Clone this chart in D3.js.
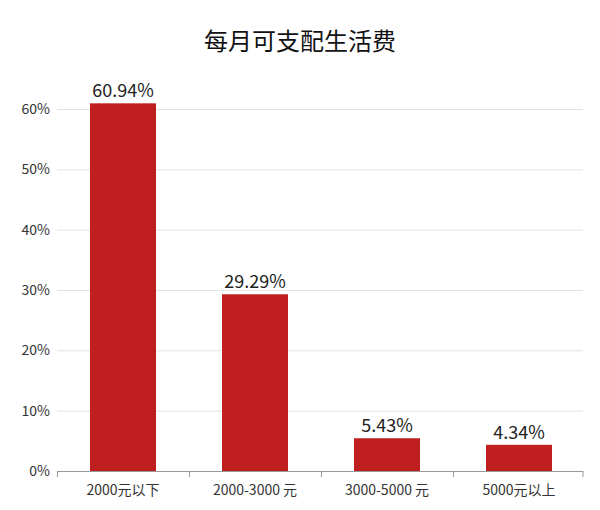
<!DOCTYPE html>
<html><head><meta charset="utf-8">
<script src="https://cdn.jsdelivr.net/npm/d3@7"></script>
<style>body{margin:0;background:#fff}</style>
</head><body>
<svg class="chart" width="600" height="510"></svg>
<script>
var categories = ["2000元以下", "2000-3000 元", "3000-5000 元", "5000元以上"];
var values = [60.94, 29.29, 5.43, 4.34];
var ticks = [0, 10, 20, 30, 40, 50, 60];

var svg = d3.select(".chart"),
  font = "'Noto Sans CJK SC', 'Noto Sans', sans-serif";

var x = d3.scaleBand().domain(categories).range([57, 585]).paddingInner(0.5).paddingOuter(0.25);
var y = d3.scaleLinear().domain([0, 60]).range([471, 109]);

svg.append("text")
  .attr("x", 300).attr("y", 50)
  .attr("text-anchor", "middle")
  .attr("font-family", font).attr("font-size", 24).attr("fill", "#111")
  .text("每月可支配生活费");

// grid
svg.append("g").selectAll("line").data(ticks.slice(1)).enter().append("line")
  .attr("x1", 57).attr("x2", 583)
  .attr("y1", function (d) { return y(d) + 0.5; })
  .attr("y2", function (d) { return y(d) + 0.5; })
  .attr("stroke", "#e2e2e2");

// y labels
svg.append("g").selectAll("text").data(ticks).enter().append("text")
  .attr("x", 50).attr("y", function (d) { return y(d); })
  .attr("dy", "0.35em").attr("text-anchor", "end")
  .attr("font-family", font).attr("font-size", 14).attr("fill", "#333")
  .text(function (d) { return d + "%"; });

svg.append("g").selectAll("rect").data(values).enter().append("rect")
  .attr("x", function (d, i) { return x(categories[i]); })
  .attr("y", function (d) { return y(d); })
  .attr("width", x.bandwidth())
  .attr("height", function (d) { return y(0) - y(d); })
  .attr("fill", "#c01f20");

svg.append("g").selectAll("text").data(values).enter().append("text")
  .attr("x", function (d, i) { return x(categories[i]) + x.bandwidth() / 2; })
  .attr("y", function (d) { return y(d) - 6; })
  .attr("text-anchor", "middle")
  .attr("font-family", font).attr("font-size", 18).attr("fill", "#222")
  .text(function (d) { return d.toFixed(2) + "%"; });

// x axis
svg.append("line").attr("x1", 57).attr("x2", 583).attr("y1", 471.5).attr("y2", 471.5).attr("stroke", "#999");
svg.append("g").selectAll("line").data(categories.concat(["end"])).enter().append("line")
  .attr("x1", function (d, i) { return i < 4 ? x(d) - x.step() * 0.25 + 0.5 : 583; })
  .attr("x2", function (d, i) { return i < 4 ? x(d) - x.step() * 0.25 + 0.5 : 583; })
  .attr("y1", 471).attr("y2", 477).attr("stroke", "#999");
svg.append("g").selectAll("text").data(categories).enter().append("text")
  .attr("x", function (d) { return x(d) + x.bandwidth() / 2; })
  .attr("y", 495).attr("text-anchor", "middle")
  .attr("font-family", font).attr("font-size", 14).attr("fill", "#333")
  .text(function (d) { return d; });
</script>
</body></html>
